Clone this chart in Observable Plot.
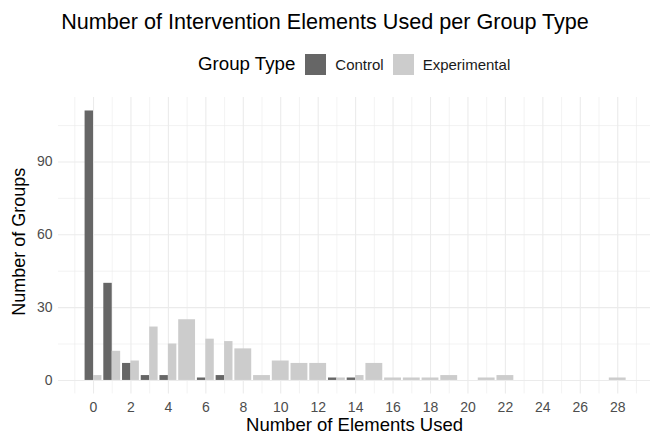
<!DOCTYPE html>
<html>
<head>
<meta charset="utf-8">
<script src="https://cdn.jsdelivr.net/npm/d3@7"></script>
<script src="https://cdn.jsdelivr.net/npm/@observablehq/plot@0.6"></script>
<style>
  html, body { margin: 0; padding: 0; background: #fff; }
  body { width: 650px; height: 434px; overflow: hidden; font-family: "Liberation Sans", Arial, sans-serif; }
  #title { height: 44px; line-height: 44px; text-align: center; font-size: 21.6px; color: #000; }
  #legend { height: 40px; display: flex; align-items: center; padding-left: 198px; box-sizing: border-box; }
  #legend .lt { font-size: 18.7px; color: #000; margin-right: 10px; }
  #legend .sw { width: 21px; height: 21px; margin-right: 9px; }
  #legend .lb { font-size: 15px; color: #1a1a1a; margin-right: 9px; }
</style>
</head>
<body>
<div id="title">Number of Intervention Elements Used per Group Type</div>
<div id="legend"></div>
<div id="chart"></div>
<script>
// Data
const groups = ["Control", "Experimental"];
const groupColors = ["#666666", "#cccccc"];
const controlX = [0, 1, 2, 3, 4, 6, 7, 13, 14];
const controlN = [111, 40, 7, 2, 2, 1, 2, 1, 1];
const experimentalX = [0, 1, 2, 3, 4, 5, 6, 7, 8, 9, 10, 11, 12, 13, 14, 15, 16, 17, 18, 19, 21, 22, 28];
const experimentalN = [2, 12, 8, 22, 15, 25, 17, 16, 13, 2, 8, 7, 7, 1, 2, 7, 1, 1, 1, 2, 1, 2, 1];
const xMajor = [0, 2, 4, 6, 8, 10, 12, 14, 16, 18, 20, 22, 24, 26, 28];
const xMinor = [-1, 1, 3, 5, 7, 9, 11, 13, 15, 17, 19, 21, 23, 25, 27, 29];
const yMajor = [0, 30, 60, 90];
const yMinor = [15, 45, 75, 105];

// Build dodged table (ggplot position_dodge, width 0.9)
const rows = [];
controlX.forEach((x, i) => rows.push({x, n: controlN[i], group: "Control"}));
experimentalX.forEach((x, i) => rows.push({x, n: experimentalN[i], group: "Experimental"}));
const byX = d3.group(rows, d => d.x);
const bars = rows.map(d => {
  const k = byX.get(d.x).length;
  if (k === 1) return {...d, x1: d.x - 0.45, x2: d.x + 0.45};
  return d.group === "Control"
    ? {...d, x1: d.x - 0.45, x2: d.x}
    : {...d, x1: d.x, x2: d.x + 0.45};
});

// Legend
const legend = document.getElementById("legend");
legend.innerHTML = `<span class="lt">Group Type</span>` +
  groups.map((g, i) => `<span class="sw" style="background:${groupColors[i]}"></span><span class="lb">${g}</span>`).join("");

const plot = Plot.plot({
  width: 650,
  height: 350,
  marginLeft: 58,
  marginRight: 0,
  marginTop: 13,
  marginBottom: 40.6,
  style: { fontFamily: "Liberation Sans, Arial, sans-serif", fontSize: "14px", color: "#4d4d4d", background: "#fff" },
  x: { domain: [-1.87, 29.75] },
  y: { domain: [-5.55, 116.55] },
  color: { domain: groups, range: groupColors },
  marks: [
    Plot.ruleX(xMinor, { stroke: "#ebebeb", strokeWidth: 0.6 }),
    Plot.ruleY(yMinor, { stroke: "#ebebeb", strokeWidth: 0.6 }),
    Plot.ruleX(xMajor, { stroke: "#ebebeb", strokeWidth: 1.1 }),
    Plot.ruleY(yMajor, { stroke: "#ebebeb", strokeWidth: 1.1 }),
    Plot.rectY(bars, { x1: "x1", x2: "x2", y1: 0, y2: "n", fill: "group" }),
    Plot.axisX(xMajor, { tickSize: 0, tickPadding: 8, label: null, fill: "#4d4d4d", fontSize: 14 }),
    Plot.axisY(yMajor, { tickSize: 0, tickPadding: 6, label: null, fill: "#4d4d4d", fontSize: 14 }),
    Plot.text(["Number of Elements Used"], { frameAnchor: "bottom", lineAnchor: "middle", textAnchor: "middle", dy: 31.5, fontSize: 18.5, fill: "#000" }),
    Plot.text(["Number of Groups"], { frameAnchor: "left", lineAnchor: "middle", textAnchor: "middle", rotate: -90, dx: -39, dy: -4, fontSize: 18, fill: "#000" })
  ]
});
document.getElementById("chart").appendChild(plot);
</script>
</body>
</html>
